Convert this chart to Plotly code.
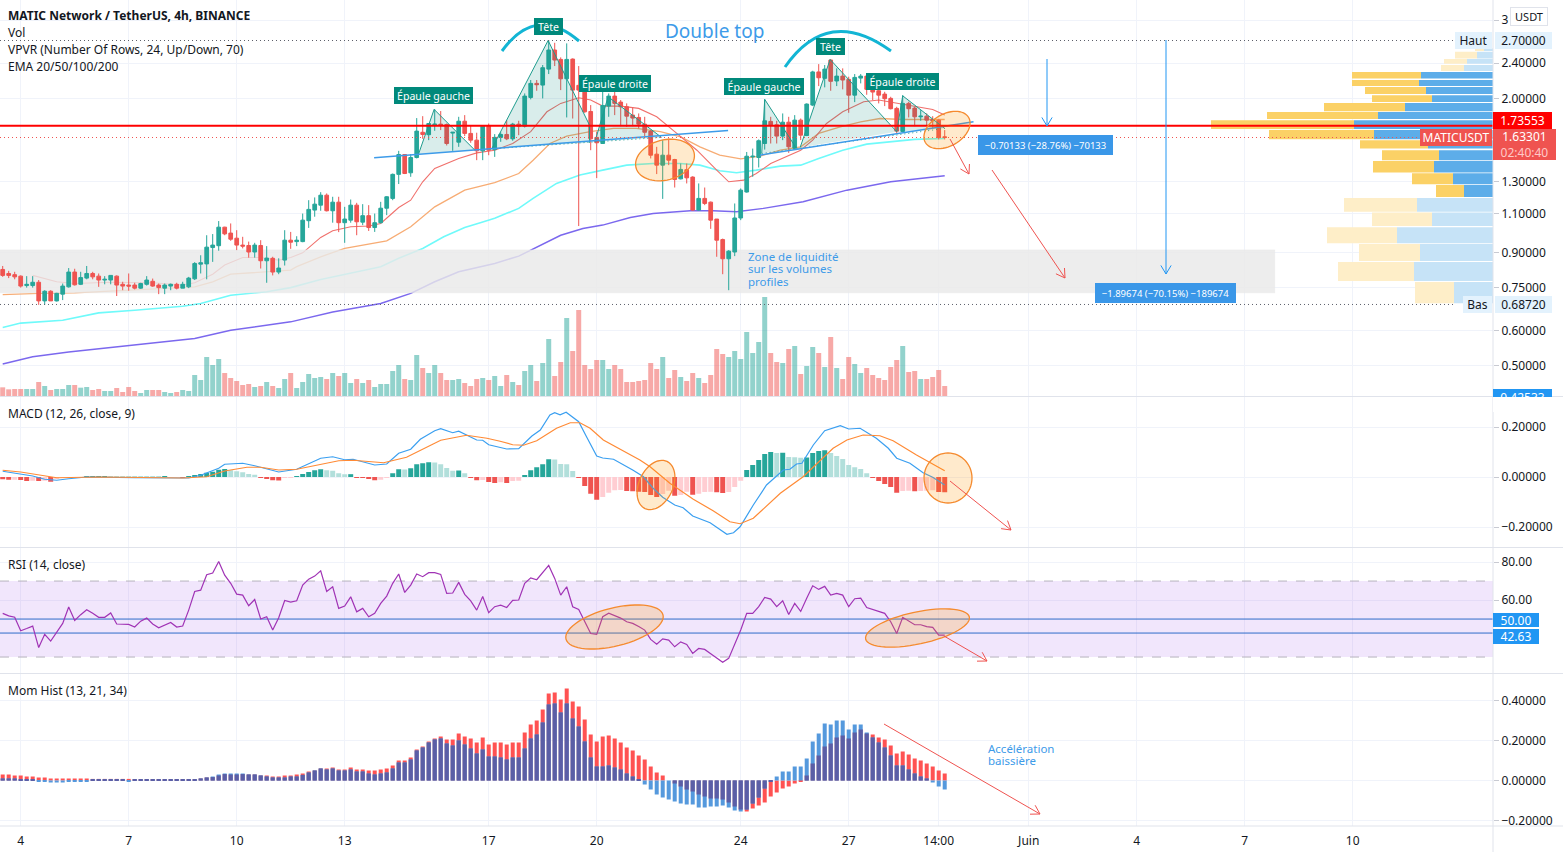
import math
import plotly.graph_objects as go

# ---- candles, 4h bars (bar index 0 = first visible bar) ----
opens = [.824,.807,.802,.796,.758,.758,.771,.700,.736,.700,
         .725,.753,.813,.763,.788,.807,.796,.780,.780,.796,
         .763,.760,.760,.748,.763,.775,.760,.748,.756,.763,
         .748,.753,.785,.847,.848,.923,.932,1.026,.995,.969,
         .935,.933,.902,.933,.862,.873,.813,.865,.959,.952,
         .952,1.061,1.121,1.150,1.211,1.117,1.168,1.050,1.064,1.150,
         1.053,1.089,1.024,1.050,1.132,1.191,1.349,1.495,1.360,1.472,
         1.678,1.657,1.743,1.750,1.747,1.671,1.594,1.777,1.668,1.611,
         1.524,1.732,1.534,1.634,1.659,1.622,1.750,1.732,2.010,2.162,
         2.143,2.328,2.570,2.448,2.214,2.452,2.140,2.096,1.869,1.634,
         1.583,1.922,2.024,1.962,1.915,1.834,1.812,1.750,1.688,1.498,
         1.415,1.490,1.457,1.318,1.382,1.330,1.121,1.191,1.168,1.070,
         .962,.871,.902,1.076,1.231,1.477,1.472,1.583,1.775,1.744,
         1.645,1.768,1.545,1.787,1.650,1.932,2.294,2.219,2.440,2.189,
         2.245,2.207,2.034,2.222,2.245,2.132,2.081,2.045,2.000,1.899,
         1.685,1.949,1.902,1.818,1.824,1.793,1.787,1.639]
highs = [.839,.818,.814,.799,.796,.796,.780,.740,.740,.730,
         .766,.830,.827,.814,.839,.814,.807,.796,.799,.799,
         .773,.807,.769,.769,.796,.786,.766,.766,.766,.769,
         .773,.793,.856,.887,.984,.990,1.059,1.028,1.046,1.010,
         .976,.952,.946,.959,.930,.880,.873,1.010,1.001,.979,
         1.101,1.180,1.197,1.230,1.222,1.201,1.201,1.140,1.184,1.164,
         1.156,1.150,1.101,1.170,1.205,1.355,1.524,1.498,1.498,1.806,
         1.824,1.756,1.892,1.873,1.756,1.678,1.818,1.834,1.741,1.674,
         1.738,1.756,1.662,1.678,1.787,1.762,1.781,2.052,2.200,2.200,
         2.378,2.707,2.668,2.474,2.660,2.461,2.365,2.181,1.932,1.683,
         2.181,2.052,2.208,1.983,1.949,1.908,1.850,1.818,1.697,1.556,
         1.611,1.625,1.462,1.427,1.427,1.336,1.287,1.260,1.172,1.070,
         .967,.911,1.160,1.254,1.515,1.542,1.617,1.990,1.818,1.781,
         1.850,1.818,1.834,1.802,1.949,2.308,2.389,2.378,2.448,2.337,
         2.337,2.238,2.269,2.269,2.269,2.181,2.118,2.070,2.017,1.915,
         2.034,1.966,1.915,1.882,1.850,1.824,1.793,1.697]
lows = [.793,.788,.783,.750,.750,.750,.686,.686,.700,.698,
        .703,.750,.758,.760,.783,.783,.753,.763,.763,.718,
        .740,.738,.743,.745,.758,.753,.725,.725,.740,.743,
        .748,.748,.780,.807,.783,.857,.908,.984,.956,.911,
        .919,.876,.876,.828,.769,.799,.804,.841,.917,.930,
        .949,1.022,1.083,1.117,1.113,1.050,1.000,.946,1.050,.984,
        1.037,1.006,1.001,1.046,1.092,1.180,1.283,1.351,1.332,1.465,
        1.622,1.611,1.691,1.697,1.567,1.524,1.556,1.645,1.589,1.452,
        1.452,1.490,1.477,1.597,1.611,1.606,1.653,1.720,1.990,2.081,
        2.000,2.269,2.365,2.088,1.812,1.802,1.032,1.856,1.529,1.323,
        1.583,1.818,1.834,1.732,1.726,1.732,1.712,1.645,1.465,1.351,
        1.188,1.415,1.260,1.314,1.287,1.117,1.117,1.150,1.017,.880,
        .804,.740,.883,1.064,1.227,1.332,1.398,1.534,1.583,1.583,
        1.611,1.508,1.540,1.611,1.645,1.922,2.132,2.118,2.081,2.132,
        2.096,1.856,1.962,2.162,2.038,1.983,1.949,1.922,1.889,1.668,
        1.678,1.812,1.732,1.781,1.738,1.712,1.617,1.617]
closes = [.799,.799,.793,.756,.763,.771,.700,.736,.700,.728,
          .756,.813,.761,.790,.807,.793,.780,.783,.799,.760,
          .756,.756,.748,.766,.780,.756,.750,.760,.763,.748,
          .763,.788,.850,.853,.925,.935,1.026,.991,.964,.935,
          .930,.902,.935,.862,.874,.813,.830,.959,.949,.959,
          1.064,1.125,1.156,1.211,1.117,1.168,1.050,1.070,1.150,1.055,
          1.089,1.024,1.050,1.132,1.201,1.349,1.495,1.355,1.472,1.688,
          1.659,1.756,1.750,1.743,1.583,1.678,1.777,1.668,1.611,1.524,
          1.732,1.529,1.634,1.659,1.622,1.750,1.732,2.024,2.162,2.147,
          2.345,2.570,2.440,2.214,2.448,2.088,2.088,1.866,1.622,1.589,
          1.928,2.024,1.949,1.915,1.824,1.806,1.750,1.678,1.490,1.415,
          1.490,1.452,1.314,1.384,1.325,1.121,1.191,1.160,1.064,.959,
          .871,.906,1.076,1.243,1.482,1.482,1.606,1.781,1.743,1.645,
          1.768,1.556,1.787,1.653,1.942,2.294,2.226,2.328,2.185,2.245,
          2.200,2.034,2.230,2.245,2.096,2.067,2.034,1.997,1.896,1.688,
          1.949,1.896,1.818,1.824,1.787,1.781,1.634,1.633]
volumes = [26,20,21,21,21,21,42,30,18,21,
           21,33,33,25,27,18,21,15,15,24,
           12,27,15,9,18,18,18,12,9,12,
           18,15,63,48,117,93,111,69,54,45,
           33,36,27,30,42,30,24,51,69,24,
           42,66,54,57,51,69,60,69,39,51,
           39,48,27,36,36,75,93,51,48,123,
           84,69,93,69,48,48,51,39,30,51,
           54,48,60,30,63,42,33,75,93,45,
           99,171,60,102,234,135,258,93,81,108,
           108,81,93,81,42,42,45,48,99,81,
           117,54,78,57,45,69,54,39,63,141,
           126,117,135,111,192,129,162,297,129,102,
           99,141,150,66,90,147,129,87,177,84,
           51,117,96,69,84,63,54,48,87,108,
           150,72,75,51,51,57,78,30]

# ---- moving averages: bar index / price pairs ----
ema20_x = [5,9,12,18,25,30,32,35,37,40,43,46,48,50,53,55,58,61,63,66,68,70,72,76,79,82,85,88,90.7,93,96,98,100,103,106,109,112,115.7,119,121,123.5,125.6,128,131,133,135,137.3,140,143.5,146,149,152,155,157]
ema20_y = [.799,.773,.766,.771,.769,.760,.769,.804,.843,.877,.877,.865,.877,.898,.973,1.007,1.028,1.032,1.046,1.136,1.180,1.298,1.391,1.465,1.508,1.529,1.583,1.683,1.866,1.949,2.007,1.983,1.922,1.922,1.899,1.818,1.683,1.529,1.379,1.298,1.309,1.355,1.427,1.490,1.529,1.611,1.756,1.866,1.966,1.983,1.949,1.915,1.889,1.834]
ema50_x = [0,6,12,20,32,35,38,48,49,53,57,64,68,72,77,82,86,88.4,91.2,94,97.9,101.8,105.6,109.6,113,116.2,119.5,123,126.2,129.6,133,136,139.6,143,146.2,150,157]
ema50_y = [.723,.728,.730,.740,.753,.773,.804,.821,.836,.880,.919,.956,1.028,1.140,1.243,1.292,1.355,1.452,1.583,1.645,1.683,1.712,1.712,1.683,1.639,1.556,1.490,1.462,1.482,1.529,1.556,1.668,1.726,1.771,1.802,1.793,1.793]
ema100_x = [0,3,10,16,22,30,33,38,44,48,53,58,63,66,70,73.5,77,79.6,82,86,88.4,92.3,96.2,100,104,108.4,112.9,116.2,119.5,122.3,125.6,129.6,133,136,140,144,148,152,157]
ema100_y = [.610,.624,.633,.658,.667,.681,.691,.721,.734,.750,.782,.809,.836,.873,.919,.976,1.024,1.050,1.074,1.131,1.191,1.287,1.344,1.379,1.415,1.427,1.427,1.415,1.374,1.360,1.379,1.408,1.415,1.465,1.529,1.578,1.600,1.617,1.625]
ema200_x = [0,5,11,22,32,38,48,55,63,68,72,76,82,86,88.4,93,96.7,100,104.6,108.4,114.6,118.4,122.3,126.8,133.4,140.7,148,157]
ema200_y = [.505,.524,.537,.557,.576,.601,.628,.661,.691,.728,.773,.814,.850,.883,.917,.984,1.019,1.037,1.079,1.101,1.117,1.117,1.111,1.131,1.170,1.243,1.298,1.340]

# ---- head and shoulders drawings and levels ----
patterns = [
    ([69.3,71.9,78.7], [1.498,1.889,1.529]),
    ([81.5,90.9,97.8,97.8], [1.540,2.70,1.741,1.589]),
    ([98.7,100.9,109.8], [1.597,2.017,1.634]),
    ([126.5,127,132.3], [1.503,1.990,1.543]),
    ([132.9,137.9,149], [1.550,2.448,1.683]),
    ([149,150,157], [1.683,2.027,1.712]),
]
neck_lines = [([61.9,120.9], [1.471,1.694]), ([126.2,161.8], [1.490,1.771])]
dotted_necks = [([81.5,109.8], [1.540,1.634]), ([126.5,157], [1.503,1.712])]
level_red = 1.73553
last_price = 1.63301
high_price = 2.70
low_price = 0.6872
zone_x = [-0.45,212,212,-0.45]
zone_y = [.912,.912,.730,.730]

# ---- volume profile rows (top to bottom) ----
vp_high = [2.592,2.548,2.452,2.378,2.294,2.200,2.121,2.034,1.952,1.863,1.787,1.697,1.611,1.529,1.445,1.357,1.276,1.194,1.107,1.026,.940,.857,.772]
vp_low = [2.556,2.461,2.394,2.305,2.216,2.132,2.045,1.962,1.872,1.797,1.706,1.619,1.542,1.452,1.363,1.282,1.199,1.112,1.032,.944,.861,.776,.692]
vp_up = [9,16,26,29,72,74,67,61,88,115,139,119,65,54,59,40,29,76,61,96,73,79,39]
vp_down = [9,22,23,23,69,67,61,60,81,111,143,105,68,57,61,41,28,73,60,70,61,76,39]
vp_faded = [1,1,1,1,0,0,0,0,0,0,0,0,0,0,0,0,0,1,1,1,1,1,1]

# ---- MACD ----
macd_x = [0,3,5,7,9,11,14,22,31,33,36,37,40,42,46,49,53,55,57,58.4,62,64,66,68,69.6,72,73,75,76,79,80,81,84,86,88.2,89.6,91.2,92,92.9,93.9,96,97.3,99,100,101.8,105,106.8,108.4,110,112,113.4,115,117.9,120.7,121.8,122.9,125.1,127.3,130.1,131.2,132.3,133.2,135.1,137,139.6,141,142.9,145.6,147.6,149,151.2,153.4,155,157]
macd_y = [.023,.012,.004,-.009,-.013,-.007,0,-.003,-.004,.007,.035,.051,.055,.045,.020,.031,.075,.081,.069,.071,.048,.052,.095,.111,.151,.185,.193,.177,.183,.148,.147,.129,.112,.113,.164,.188,.248,.257,.249,.259,.221,.161,.084,.076,.071,.028,.001,-.045,-.081,-.112,-.123,-.156,-.183,-.229,-.223,-.199,-.112,-.032,.028,.031,.052,.055,.128,.185,.205,.192,.195,.155,.115,.075,.055,.017,-.001,-.032]
signal_x = [0,3,9,16,30,34,37,40.7,43,46,49,53,56,58.4,63.5,67.3,73,77.3,80.7,82.9,85,86.8,89,92.3,94.6,96.2,97.9,100.1,102.3,106.2,107.9,111.2,115.1,118.4,121.2,122.9,125.1,129.6,133.4,135.7,138.4,140.7,143.4,146.2,148.4,152.3,157]
signal_y = [.027,.020,-.003,0,-.004,.001,.024,.039,.039,.028,.031,.051,.065,.067,.057,.079,.147,.167,.155,.143,.129,.127,.145,.195,.217,.217,.195,.148,.119,.068,.041,-.025,-.089,-.135,-.179,-.187,-.165,-.065,.001,.055,.115,.148,.168,.165,.145,.088,.025]
macd_hist = [-.009,-.011,-.011,-.012,-.016,-.015,-.016,-.015,-.019,-.007,
             -.004,-.003,-.001,-.0005,.001,.0012,.0014,.0016,.0012,.001,
             .0008,.0006,.0005,.0004,.0003,.0002,.0001,.0001,0,0,
             -.001,.001,.008,.012,.017,.021,.029,.032,.027,.023,
             .019,.012,.009,-.001,-.007,-.013,-.014,-.004,-.001,.004,
             .012,.020,.027,.031,.027,.025,.015,.011,.0113,-.003,
             -.004,-.008,-.013,-.011,-.001,.015,.031,.030,.035,.051,
             .055,.059,.058,.051,.036,.025,.026,.015,-.001,-.013,
             -.012,-.020,-.024,-.021,-.024,-.016,-.015,.007,.027,.039,
             .051,.071,.070,.052,.051,.024,-.001,-.036,-.067,-.091,
             -.080,-.063,-.053,-.052,-.056,-.057,-.059,-.060,-.072,-.080,
             -.068,-.055,-.075,-.072,-.059,-.071,-.067,-.060,-.0593,-.061,
             -.064,-.060,-.040,-.015,.028,.048,.068,.092,.100,.096,
             .097,.080,.079,.077,.078,.096,.104,.107,.096,.084,
             .072,.048,.039,.032,.015,-.001,-.016,-.028,-.040,-.063,
             -.056,-.055,-.057,-.056,-.055,-.053,-.060,-.061]

# ---- RSI ----
rsi = [53,51.7,51,43.8,45,46.3,35,42,38.4,42.8,
       47.7,56.3,49.3,52.3,54.9,53,50.9,50.9,53.2,47.4,
       47.2,47.2,45.8,48.9,50.5,47.4,45.4,46.8,48.2,45.8,
       46.3,54.7,64.5,65.2,73.3,74.2,80.3,73.1,68.8,63.1,
       62.6,57,60.3,50,51.2,44.2,50.7,59.8,58.9,59.6,
       67.9,71,72.6,75.4,64.5,67,55.6,56.8,61.7,53.8,
       55.6,51.2,53,58.2,62.1,68.8,73.7,64,67.9,73.7,
       72.3,74.4,74.4,73.5,63.5,63.7,69.3,63,59.6,54.7,
       61.9,53.3,56.5,57.3,56.1,59.8,60,68.8,71.7,70.7,
       74.5,78.2,71.4,62.6,67,56.5,55.1,48.6,42.4,41.9,
       51.2,53.1,51.7,50.5,48.6,47.7,46.1,44.2,39.3,36.8,
       39.6,38.9,35.4,38,36.6,31.9,34.5,34,31.7,29.3,
       27.2,29.3,36.3,44.2,53,53,56.5,61.4,60.5,56.5,
       59.6,52.4,58.2,54,60.9,67.5,65.6,67.2,62.6,63.5,
       62.6,56.5,60.7,61,56.1,55.2,54.2,53,48.6,42.4,
       50.9,49.1,47,47,46,45.6,41.5,41.5]
rsi_upper = 70
rsi_lower = 30
rsi_mid = 50
rsi_last = 42.63

# ---- Mom Hist, two overlapping histograms ----
mom_a = [.03,.03,.025,.025,.02,.02,.015,.015,.01,.01,
         .01,.01,.01,.01,.01,.008,.008,.008,.008,.008,
         .008,.008,.005,.005,.005,.005,.005,.005,.005,.005,
         .005,.005,.005,.01,.015,.017,.025,.032,.03,.03,
         .032,.03,.03,.025,.025,.02,.02,.025,.025,.03,
         .035,.045,.05,.06,.06,.065,.055,.055,.065,.055,
         .055,.05,.05,.055,.06,.075,.10,.10,.115,.155,
         .17,.195,.21,.22,.205,.205,.235,.22,.21,.19,
         .215,.18,.19,.19,.18,.19,.19,.24,.28,.30,
         .355,.435,.44,.405,.46,.395,.37,.305,.23,.195,
         .22,.225,.21,.19,.165,.15,.125,.105,.07,.04,
         .025,0,-.015,-.03,-.045,-.055,-.07,-.08,-.09,-.09,
         -.095,-.11,-.13,-.145,-.155,-.14,-.125,-.11,-.08,-.06,
         -.04,-.03,-.015,-.005,.025,.085,.125,.17,.185,.215,
         .225,.21,.24,.255,.235,.23,.215,.205,.175,.135,
         .145,.13,.11,.10,.085,.07,.05,.035]
mom_b = [.01,.01,.01,.003,.003,.003,-.005,-.005,-.01,-.01,
         -.01,-.005,-.005,-.005,-.003,.003,.003,.003,.003,.003,
         .003,-.005,.005,.005,.005,.005,.005,.005,.005,.005,
         .005,.005,.005,.01,.015,.02,.03,.035,.035,.035,
         .035,.03,.03,.025,.02,.015,.015,.015,.02,.02,
         .028,.04,.05,.06,.055,.06,.05,.05,.055,.045,
         .045,.035,.03,.035,.04,.06,.09,.09,.105,.15,
         .165,.19,.205,.21,.185,.175,.20,.18,.16,.135,
         .155,.12,.12,.115,.105,.115,.115,.16,.21,.23,
         .29,.38,.385,.34,.385,.31,.27,.195,.115,.07,
         .07,.075,.065,.055,.035,.02,.005,-.02,-.045,-.07,
         -.085,-.095,-.105,-.115,-.12,-.12,-.135,-.135,-.13,-.13,
         -.125,-.135,-.15,-.155,-.145,-.115,-.085,-.04,-.005,.02,
         .045,.045,.07,.07,.11,.195,.235,.285,.28,.30,
         .30,.255,.28,.28,.24,.215,.19,.165,.125,.075,
         .075,.055,.035,.02,.01,-.01,-.03,-.045]

# ---- axis ticks ----
x_tickvals = [3,21,39,57,81,99,123,141,156,171,189,207,225]
x_ticktext = ["4","7","10","13","17","20","24","27","14:00","Juin","4","7","10"]
price_ticks = [3,2.4,2,1.3,1.1,.9,.75,.6,.5]
price_text = ["3","2.40000","2.00000","1.30000","1.10000","0.90000","0.75000","0.60000","0.50000"]
macd_ticks = [.2,0,-.2]
macd_text = ["0.20000","0.00000","\u22120.20000"]
rsi_ticks = [80,60]
rsi_text = ["80.00","60.00"]
mom_ticks = [.4,.2,0,-.2]
mom_text = ["0.40000","0.20000","0.00000","\u22120.20000"]

for name, s in [("o",opens),("h",highs),("l",lows),("c",closes),("v",volumes),("r",rsi),("mh",macd_hist),("a",mom_a),("b",mom_b)]:
    assert len(s) == 158, (name, len(s))

FONT = "Noto Sans"
TEXT = "#131722"
GRID = "#f0f3fa"
BORDER = "#e0e3eb"
UP = "#26a69a"
DOWN = "#ef5350"
BLUE = "#2196f3"
DOTS = "1px,3px"
W, H = 1493, 826  # plot area in pixels
bars = list(range(158))
X_RANGE = [-0.45, 248.38]
BAR_PX = 6.0


def px(x):
    return x / W


def py(y):
    return 1 - y / H


fig = go.Figure()

# base subplot: volume, linear scale, drawn first
vol_colors = ["rgba(38,166,154,0.5)" if c >= o else "rgba(239,83,80,0.5)" for o, c in zip(opens, closes)]
fig.add_trace(go.Bar(x=bars, y=volumes, marker=dict(color=vol_colors, line_width=0), width=0.83, xaxis="x", yaxis="y"))

# EMAs go under the grey zone, candles go above it (separate overlay axes)
for ex, ey, col, lw in [(ema200_x, ema200_y, "#7b68ee", 1.5), (ema100_x, ema100_y, "#6ffafa", 1.6),
                        (ema50_x, ema50_y, "#f7ac74", 1.3), (ema20_x, ema20_y, "#f0706c", 1.1)]:
    fig.add_trace(go.Scatter(x=ex, y=ey, mode="lines", line=dict(color=col, width=lw), xaxis="x", yaxis="y5"))
fig.add_trace(go.Scatter(x=zone_x, y=zone_y, mode="lines", fill="toself", fillcolor="rgba(233,233,233,0.82)",
                         line=dict(color="rgba(233,233,233,0.5)", width=1), xaxis="x", yaxis="y5"))

fig.add_trace(go.Candlestick(x=bars, open=opens, high=highs, low=lows, close=closes, whiskerwidth=0,
                             increasing=dict(line=dict(color=UP, width=1), fillcolor=UP),
                             decreasing=dict(line=dict(color=DOWN, width=1), fillcolor=DOWN),
                             xaxis="x", yaxis="y6"))


# volume profile: each row is a filled box anchored on the right edge
def vp_trace(rows, color):
    xs, ys = [], []
    for left, right, lo, hi in rows:
        xs += [left, right, right, left, None]
        ys += [lo, lo, hi, hi, None]
    return go.Scatter(x=xs, y=ys, mode="lines", fill="toself", fillcolor=color, line=dict(width=0), xaxis="x", yaxis="y6")


edge = X_RANGE[1]
for faded, col_up, col_down in [(0, "#5dade9", "#fbd166"), (1, "#c6e3f7", "#feeec8")]:
    up_rows, down_rows = [], []
    for hi, lo, u, d, f in zip(vp_high, vp_low, vp_up, vp_down, vp_faded):
        if f != faded:
            continue
        up_rows.append((edge - u / BAR_PX, edge, lo, hi))
        down_rows.append((edge - (u + d) / BAR_PX, edge - u / BAR_PX, lo, hi))
    fig.add_trace(vp_trace(up_rows, col_up))
    fig.add_trace(vp_trace(down_rows, col_down))

# pattern drawings
for px_, py_ in patterns:
    fig.add_trace(go.Scatter(x=px_, y=py_, mode="lines", fill="toself", fillcolor="rgba(0,137,123,0.15)",
                             line=dict(color="#1f9c8e", width=1), xaxis="x", yaxis="y6"))
for nx, ny in dotted_necks:
    fig.add_trace(go.Scatter(x=nx, y=ny, mode="lines", line=dict(color="#1f9c8e", width=1, dash=DOTS), xaxis="x", yaxis="y6"))
for nx, ny in neck_lines:
    fig.add_trace(go.Scatter(x=nx, y=ny, mode="lines", line=dict(color="#3d9be9", width=1.5), xaxis="x", yaxis="y6"))

# price levels
fig.add_trace(go.Scatter(x=[X_RANGE[0], edge], y=[last_price, last_price], mode="lines",
                         line=dict(color=DOWN, width=1, dash=DOTS), xaxis="x", yaxis="y6"))
fig.add_trace(go.Scatter(x=[X_RANGE[0], 242], y=[high_price, high_price], mode="lines",
                         line=dict(color="#5d606b", width=1, dash=DOTS), xaxis="x", yaxis="y6"))
fig.add_trace(go.Scatter(x=[X_RANGE[0], 242], y=[low_price, low_price], mode="lines",
                         line=dict(color="#5d606b", width=1, dash=DOTS), xaxis="x", yaxis="y6"))
fig.add_trace(go.Scatter(x=[X_RANGE[0], edge], y=[level_red, level_red], mode="lines",
                         line=dict(color="#ff0000", width=2), xaxis="x", yaxis="y6"))

# MACD pane
hist_colors = []
for i, v in enumerate(macd_hist):
    prev = macd_hist[i - 1] if i else v
    if v >= 0:
        hist_colors.append("#26a69a" if v >= prev else "#b2dfdb")
    else:
        hist_colors.append("#ef5350" if v < prev else "#ffcdd2")
hist_colors[0] = "#ef5350"
fig.add_trace(go.Bar(x=bars, y=macd_hist, marker=dict(color=hist_colors, line_width=0), width=0.83, xaxis="x2", yaxis="y2"))
fig.add_trace(go.Scatter(x=macd_x, y=macd_y, mode="lines", line=dict(color="#3a9ff0", width=1.2), xaxis="x2", yaxis="y2"))
fig.add_trace(go.Scatter(x=signal_x, y=signal_y, mode="lines", line=dict(color="#ff8a35", width=1.2), xaxis="x2", yaxis="y2"))

# RSI pane
band_x = [X_RANGE[0], edge, edge, X_RANGE[0]]
fig.add_trace(go.Scatter(x=band_x, y=[rsi_upper, rsi_upper, rsi_lower, rsi_lower], mode="lines", fill="toself",
                         fillcolor="rgba(149,60,230,0.13)", line=dict(width=0), xaxis="x3", yaxis="y3"))
for lvl in (rsi_upper, rsi_lower):
    fig.add_trace(go.Scatter(x=band_x[:2], y=[lvl, lvl], mode="lines", line=dict(color="#b7b3bd", width=1, dash="dash"), xaxis="x3", yaxis="y3"))
for lvl in (rsi_mid, rsi_last):
    fig.add_trace(go.Scatter(x=band_x[:2], y=[lvl, lvl], mode="lines", line=dict(color="#2e6cc9", width=1), xaxis="x3", yaxis="y3"))
fig.add_trace(go.Scatter(x=bars, y=rsi, mode="lines", line=dict(color="#a033b5", width=1.2), xaxis="x3", yaxis="y3"))

# Mom Hist pane: red and blue overlap gives the dark bars
overlap = [(a if abs(a) < abs(b) else b) if a * b > 0 else 0 for a, b in zip(mom_a, mom_b)]
for vals, col in [(mom_a, "#ff5252"), (mom_b, "#5599dd"), (overlap, "#5b5ea6")]:
    fig.add_trace(go.Bar(x=bars, y=vals, marker=dict(color=col, line_width=0), width=0.67, xaxis="x4", yaxis="y4"))

# ---- drawings in pixel position ----
shapes = []


def line(x0, y0, x1, y1, color, width=1):
    shapes.append(dict(type="line", xref="paper", yref="paper", x0=px(x0), y0=py(y0), x1=px(x1), y1=py(y1),
                       line=dict(color=color, width=width), layer="above"))


def arrow(x0, y0, x1, y1, color):
    line(x0, y0, x1, y1, color)
    ang = math.atan2(y1 - y0, x1 - x0)
    for d in (2.6, -2.6):
        line(x1, y1, x1 + 10 * math.cos(ang + d), y1 + 10 * math.sin(ang + d), color)


def ellipse(cx, cy, a, b, deg):
    t = math.radians(deg)
    pts = []
    for k in range(60):
        u = 2 * math.pi * k / 60
        ex, ey = a * math.cos(u), b * math.sin(u)
        pts.append((cx + ex * math.cos(t) - ey * math.sin(t), cy + ex * math.sin(t) + ey * math.cos(t)))
    path = "M " + " L ".join(f"{px(x):.5f} {py(y):.5f}" for x, y in pts) + " Z"
    shapes.append(dict(type="path", xref="paper", yref="paper", path=path, fillcolor="rgba(255,152,0,0.2)",
                       line=dict(color="#f58a2e", width=1.3), layer="above"))


def arc(x0, y0, cx, cy, x1, y1):
    path = f"M {px(x0):.5f} {py(y0):.5f} Q {px(cx):.5f} {py(cy):.5f} {px(x1):.5f} {py(y1):.5f}"
    shapes.append(dict(type="path", xref="paper", yref="paper", path=path, line=dict(color="#12b5d4", width=3), layer="above"))


ellipse(665, 160, 30, 20, -15)
ellipse(947, 130, 25, 16, -30)
ellipse(656, 485, 26, 17, -65)
ellipse(948, 478, 24, 25, 0)
ellipse(614.5, 627, 50, 19, -14)
ellipse(917.5, 628, 53, 16, -12)
arc(502, 51, 536, 4, 579, 41)
arc(785, 67, 828, 5, 891, 51)
arrow(950, 139, 969, 174, DOWN)
arrow(992, 170, 1065, 278, DOWN)
arrow(950, 481, 1011, 530, DOWN)
arrow(944, 636, 987, 661, DOWN)
arrow(884, 724, 1040, 814, DOWN)
arrow(1047, 59, 1047, 126, BLUE)
arrow(1166, 40, 1166, 274, BLUE)

# pane borders
for y in (396.5, 547.5, 673.5, 826):
    shapes.append(dict(type="line", xref="paper", yref="paper", x0=0, x1=1563 / W, y0=py(y), y1=py(y),
                       line=dict(color=BORDER, width=1), layer="above"))
shapes.append(dict(type="line", xref="paper", yref="paper", x0=1, x1=1, y0=py(852), y1=1,
                   line=dict(color=BORDER, width=1), layer="above"))

annotations = []


def text(s, x, y, size=12, color=TEXT, anchor="left"):
    # annotations keep a 2px pad around the text
    annotations.append(dict(text=s, xref="paper", yref="paper", x=px(x - 2), y=py(y), xanchor=anchor, yanchor="middle",
                            showarrow=False, font=dict(family=FONT, size=size, color=color), align="left"))


def box(s, x0, y0, x1, y1, bg, color="#ffffff", size=11, border=None, align="center"):
    annotations.append(dict(text=s, xref="paper", yref="paper", x=px(x0), y=py(y0), xanchor="left", yanchor="top",
                            width=x1 - x0, height=y1 - y0, showarrow=False, bgcolor=bg, borderpad=0,
                            bordercolor=border or bg, borderwidth=1 if border else 0, align=align, valign="middle",
                            font=dict(family=FONT, size=size, color=color)))


text("<b>MATIC Network / TetherUS, 4h, BINANCE</b>", 8, 16)
text("Vol", 8, 33)
text("VPVR (Number Of Rows, 24, Up/Down, 70)", 8, 50)
text("EMA 20/50/100/200", 8, 67)
text("MACD (12, 26, close, 9)", 8, 413)
text("RSI (14, close)", 8, 564)
text("Mom Hist (13, 21, 34)", 8, 690)
text("Double top", 665, 31, size=19, color="#3d9be9")
text("Zone de liquidité", 748, 256.5, size=11.5, color="#3d9be9")
text("sur les volumes", 748, 269, size=11.5, color="#3d9be9")
text("profiles", 748, 281.5, size=11.5, color="#3d9be9")
text("Accélération", 988, 748, size=11.5, color="#3d9be9")
text("baissière", 988, 760, size=11.5, color="#3d9be9")

teal = "#00897b"
box("Épaule gauche", 394, 87, 473, 104, teal, size=10.6)
box("Tête", 534, 18, 563, 35, teal, size=10.6)
box("Épaule droite", 579, 75, 651, 92, teal, size=10.6)
box("Épaule gauche", 724, 78, 804, 95, teal, size=10.6)
box("Tête", 816, 38, 845, 55, teal, size=10.6)
box("Épaule droite", 866, 73, 939, 90, teal, size=10.6)
box("\u22120.70133 (\u221228.76%) \u221270133", 978, 135, 1113, 155, "#3a97e8", size=9.5)
box("\u22121.89674 (\u221270.15%) \u2212189674", 1095, 283, 1236, 303, "#3a97e8", size=9.5)

# right hand price labels
box("USDT", 1510, 7, 1546, 24, "#ffffff", color=TEXT, size=11, border=BORDER)
box("Haut", 1455, 32, 1492, 49, "#e3f2fd", color=TEXT, size=12)
box("2.70000", 1495, 32, 1552, 49, "#e3f2fd", color=TEXT, size=12)
box("Bas", 1463, 296, 1492, 313, "#e3f2fd", color=TEXT, size=12)
box("0.68720", 1495, 296, 1552, 313, "#e3f2fd", color=TEXT, size=12)
box("1.73553", 1493, 112, 1552, 129, "#ff0000", size=12)
box("MATICUSDT", 1420, 129, 1492, 146, DOWN, size=12)
box("1.63301<br><span style='color:#ffc9c7'>02:40:40</span>", 1493, 129, 1556, 160, DOWN, size=12)
box("0.42533", 1493, 389, 1552, 406, BLUE, size=12)
box(" ", 1493, 397, 1560, 412, "#ffffff")
box("50.00", 1493, 613, 1539, 627, BLUE, size=12)
box("42.63", 1493, 629, 1539, 644, BLUE, size=12)


def x_axis(show=False, **kw):
    return dict(domain=[0, 1], range=X_RANGE, tickmode="array", tickvals=x_tickvals, ticktext=x_ticktext,
                showgrid=True, gridcolor=GRID, zeroline=False, showticklabels=show,
                ticks="outside" if show else "", ticklen=4, tickcolor="rgba(0,0,0,0)",
                showline=False, tickfont=dict(family=FONT, size=12, color=TEXT), **kw)


def y_axis(domain, rng, vals, labels, anchor, **kw):
    return dict(domain=domain, range=rng, tickmode="array", tickvals=vals, ticktext=labels, side="right", anchor=anchor,
                showgrid=True, gridcolor=GRID, zeroline=False, ticks="outside", ticklen=5, tickcolor="#c8cad2",
                showline=False, tickfont=dict(family=FONT, size=12, color=TEXT), **kw)


log_rng = [math.log10(0.4276), math.log10(3.331)]
main_dom = [py(396), 1]

fig.update_layout(
    width=1563, height=852, margin=dict(l=0, r=70, t=0, b=26), autosize=False,
    paper_bgcolor="#ffffff", plot_bgcolor="#ffffff", showlegend=False, barmode="overlay",
    boxgap=0.12, hovermode=False, shapes=shapes, annotations=annotations,
    xaxis=x_axis(anchor="y", rangeslider=dict(visible=False)),
    xaxis2=x_axis(anchor="y2", matches="x"),
    xaxis3=x_axis(anchor="y3", matches="x"),
    xaxis4=x_axis(show=True, anchor="y4", matches="x"),
    yaxis=dict(domain=main_dom, range=[0, 1188], showgrid=False, zeroline=False, showticklabels=False, ticks="", side="right"),
    yaxis5=dict(overlaying="y", type="log", range=log_rng, side="right", showgrid=False, showticklabels=False, ticks="", zeroline=False),
    yaxis6=y_axis(main_dom, log_rng, price_ticks, price_text, "x", overlaying="y", type="log"),
    yaxis2=y_axis([py(547), py(397)], [-.28, .32], macd_ticks, macd_text, "x2"),
    yaxis3=y_axis([py(673), py(548)], [21.6, 87.4], rsi_ticks, rsi_text, "x3"),
    yaxis4=y_axis([0, py(674)], [-.2275, .5325], mom_ticks, mom_text, "x4"),
)

# the page body keeps a default margin otherwise
fig.write_html("out.html", config=dict(displayModeBar=False), post_script="document.body.style.margin='0';")
